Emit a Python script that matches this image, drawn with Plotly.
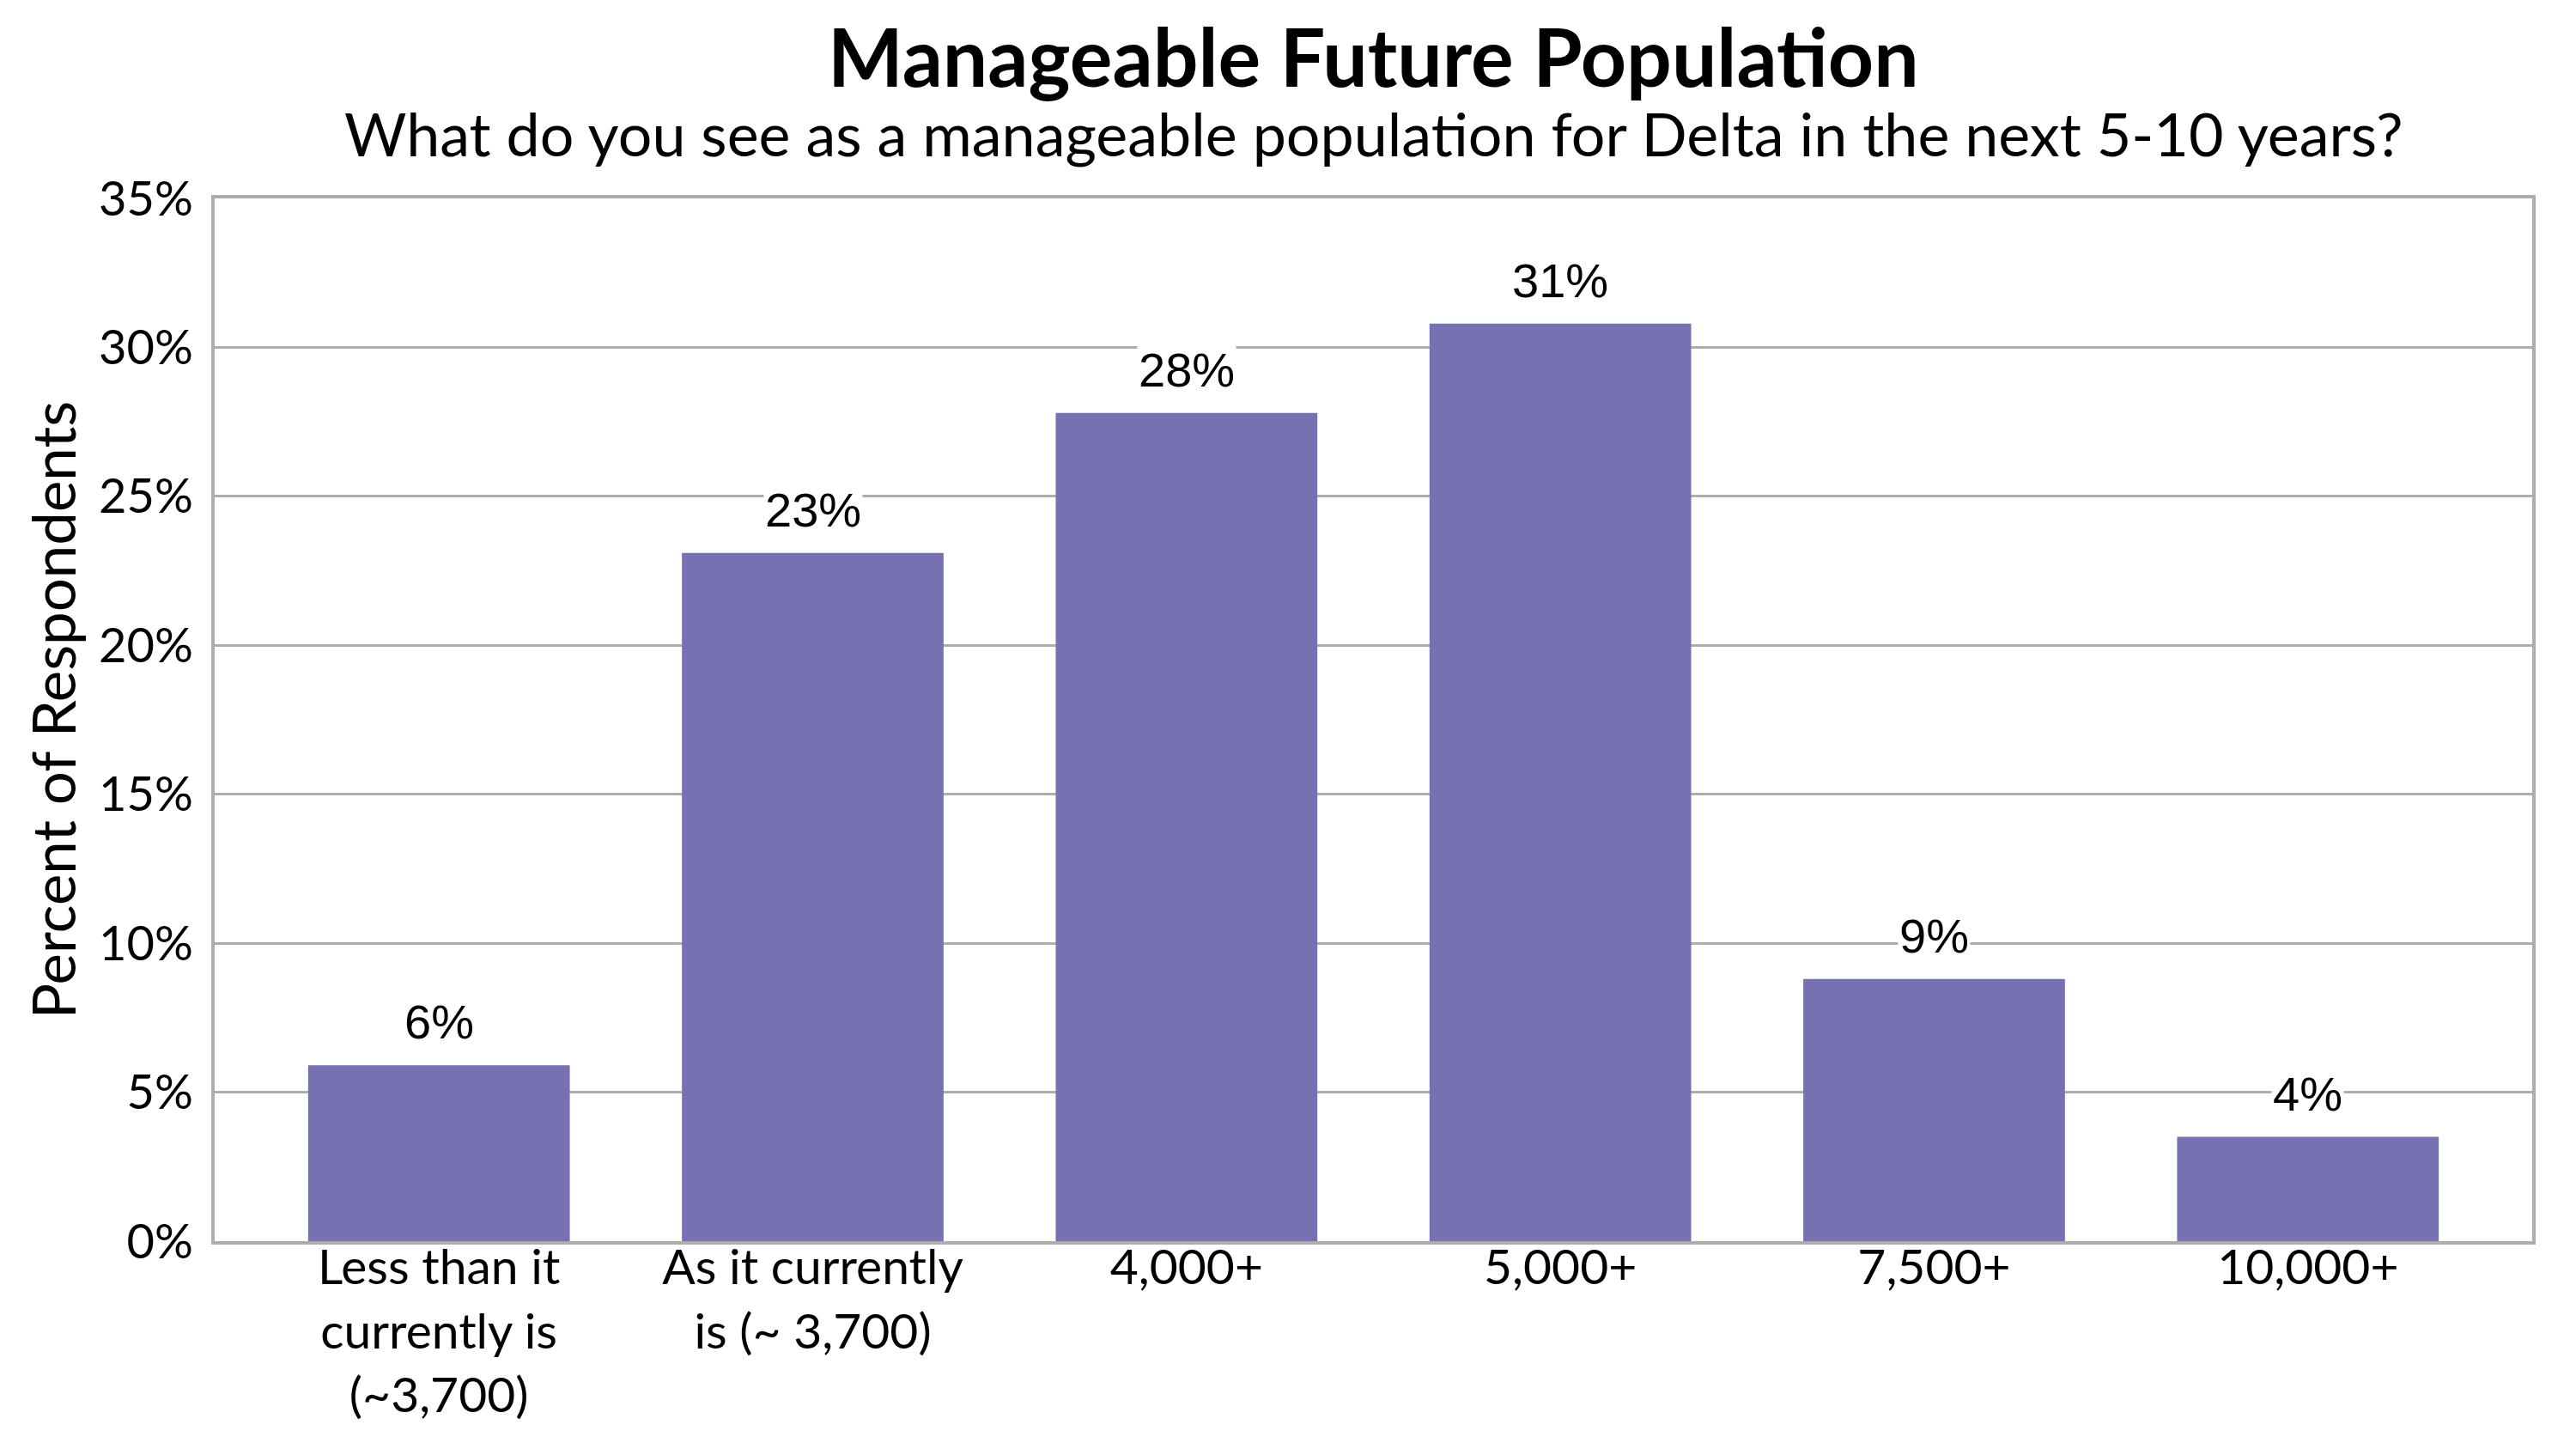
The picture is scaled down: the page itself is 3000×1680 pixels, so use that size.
import plotly.graph_objects as go

# survey answers and share of respondents (percent)
categories = [
    "Less than it<br>currently is<br>(~3,700)",
    "As it currently<br>is (~ 3,700)",
    "4,000+",
    "5,000+",
    "7,500+",
    "10,000+",
]
percents = [5.9, 23.1, 27.8, 30.8, 8.8, 3.5]
y_ticks = [0, 5, 10, 15, 20, 25, 30, 35]
y_tick_labels = ["0%", "5%", "10%", "15%", "20%", "25%", "30%", "35%"]

title_text = "<b>Manageable Future Population</b>"
subtitle_text = "What do you see as a manageable population for Delta in the next 5-10 years?"
y_title = "Percent of Respondents"

text_font = "Lato, 'Open Sans', sans-serif"
label_font = "'Liberation Sans', Arial, sans-serif"
grid_grey = "#adadad"

fig = go.Figure(go.Bar(
    x=categories,
    y=percents,
    marker=dict(color="#7671B1", line=dict(width=0)),
    hoverinfo="skip",
))

# value labels above each bar, white box masks the gridline like the original
for cat, val in zip(categories, percents):
    fig.add_annotation(
        x=cat, y=val, xref="x", yref="y",
        text="{:.0f}%".format(val),
        showarrow=False, yanchor="bottom", yshift=17,
        bgcolor="white", borderpad=1,
        font=dict(family=label_font, size=56, color="black"),
    )

#Titles and axis title as paper annotations
fig.add_annotation(
    x=0.5, y=1.137, xref="paper", yref="paper",
    text=title_text, showarrow=False, xanchor="center", yanchor="middle",
    font=dict(family=text_font, size=93, color="black"),
)
fig.add_annotation(
    x=0.5, y=1.063, xref="paper", yref="paper",
    text=subtitle_text, showarrow=False, xanchor="center", yanchor="middle",
    font=dict(family=text_font, size=70, color="black"),
)
fig.add_annotation(
    x=-0.07, y=0.509, xref="paper", yref="paper",
    text=y_title, textangle=-90, showarrow=False,
    xanchor="center", yanchor="middle",
    font=dict(family=text_font, size=69, color="black"),
)

fig.update_layout(
    width=3000, height=1680,
    margin=dict(l=242, r=59, t=223, b=243),
    paper_bgcolor="white", plot_bgcolor="white",
    bargap=0.3,
    showlegend=False,
    xaxis=dict(
        range=[-0.6, 5.6],
        showgrid=False,
        showline=True, linecolor=grid_grey, linewidth=4, mirror=True,
        ticks="", ticklabelstandoff=-22,
        tickfont=dict(family=text_font, size=57, color="black"),
    ),
    yaxis=dict(
        range=[0, 35], tickvals=y_ticks, ticktext=y_tick_labels,
        showgrid=True, gridcolor=grid_grey, gridwidth=3,
        zeroline=False,
        showline=True, linecolor=grid_grey, linewidth=4, mirror=True,
        ticks="", ticklabelstandoff=10,
        tickfont=dict(family=text_font, size=56, color="black"),
    ),
)

fig.write_html("out.html")
